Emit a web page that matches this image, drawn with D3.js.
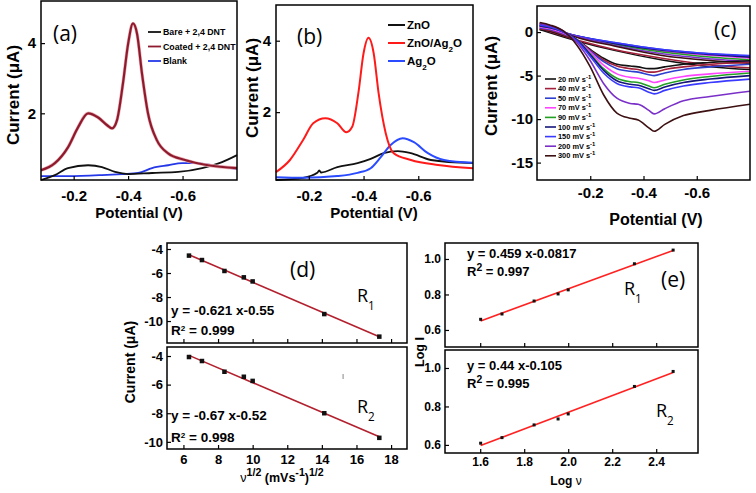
<!DOCTYPE html>
<html>
<head>
<meta charset="utf-8">
<script src="https://cdn.jsdelivr.net/npm/d3@7"></script>
<style>
body { margin: 0; background: #fff; }
svg { display: block; }
text { font-family: "Liberation Sans", Arial, sans-serif; }
</style>
</head>
<body>
<script>
// ---- panel (a): potential (V) vs current (uA)
var aBare = [[-0.08,0.10],[-0.131,0.24],[-0.179,0.44],[-0.253,0.52],[-0.304,0.47],[-0.352,0.33],[-0.40,0.27],[-0.488,0.30],[-0.584,0.33],[-0.672,0.44],[-0.745,0.61],[-0.80,0.81]];
var aCoated = [[-0.08,0.38],[-0.131,0.58],[-0.179,1.03],[-0.216,1.6],[-0.253,2.0],[-0.29,1.88],[-0.323,1.66],[-0.341,1.57],[-0.359,1.8],[-0.381,2.85],[-0.40,3.98],[-0.418,4.56],[-0.433,4.26],[-0.451,3.13],[-0.473,2.0],[-0.506,1.23],[-0.547,0.86],[-0.609,0.67],[-0.694,0.52],[-0.80,0.44]];
var aBlank = [[-0.08,0.21],[-0.179,0.21],[-0.304,0.24],[-0.378,0.27],[-0.437,0.30],[-0.488,0.44],[-0.547,0.52],[-0.598,0.58],[-0.646,0.58],[-0.709,0.52],[-0.80,0.41]];
var aNames = ["Bare + 2,4 DNT", "Coated + 2,4 DNT", "Blank"];

// ---- panel (b)
var bZnO = [[-0.08,0.10],[-0.179,0.16],[-0.231,0.30],[-0.238,0.37],[-0.245,0.31],[-0.304,0.46],[-0.378,0.57],[-0.426,0.69],[-0.473,0.85],[-0.525,0.91],[-0.573,0.85],[-0.646,0.66],[-0.80,0.57]];
var bZnOAg = [[-0.08,0.32],[-0.131,0.66],[-0.179,1.22],[-0.216,1.69],[-0.26,1.83],[-0.304,1.69],[-0.337,1.44],[-0.359,1.6],[-0.381,2.53],[-0.40,3.65],[-0.418,4.08],[-0.437,3.65],[-0.455,2.53],[-0.481,1.41],[-0.51,0.85],[-0.573,0.66],[-0.672,0.52],[-0.80,0.43]];
var bAg = [[-0.08,0.18],[-0.179,0.16],[-0.304,0.21],[-0.378,0.30],[-0.426,0.43],[-0.463,0.74],[-0.499,1.08],[-0.543,1.27],[-0.584,1.16],[-0.635,0.85],[-0.694,0.66],[-0.80,0.58]];

// ---- panel (c): scan rates
var cRates = ["20", "40", "50", "70", "90", "100", "150", "200", "300"];
var cColors = ["#111111", "#a3203a", "#2f3fd0", "#ff44ff", "#22a022", "#16167a", "#3a3aff", "#7a30c8", "#3d1012"];
var cFwdV = [-0.01,-0.05,-0.1,-0.15,-0.2,-0.25,-0.3,-0.35,-0.38,-0.42,-0.44,-0.48,-0.55,-0.65,-0.8];
var cFwd = [
  [0.3,0.1,-0.4,-0.9,-2.0,-3.0,-3.7,-3.9,-4.0,-4.2,-4.2,-4.0,-3.7,-3.5,-3.3],
  [0.4,0.2,-0.3,-0.9,-2.1,-3.2,-3.9,-4.2,-4.3,-4.6,-4.6,-4.3,-4.0,-3.7,-3.5],
  [0.5,0.3,-0.2,-0.9,-2.2,-3.4,-4.2,-4.5,-4.6,-4.9,-5.0,-4.7,-4.3,-4.0,-3.7],
  [0.6,0.4,-0.1,-0.9,-2.3,-3.8,-4.8,-5.2,-5.3,-5.6,-5.8,-5.5,-5.1,-4.8,-4.5],
  [0.7,0.5,0.0,-0.9,-2.5,-4.2,-5.3,-5.7,-5.8,-6.2,-6.4,-6.0,-5.5,-5.1,-4.7],
  [0.7,0.5,0.0,-0.9,-2.6,-4.4,-5.6,-6.0,-6.1,-6.5,-6.7,-6.3,-5.8,-5.4,-5.0],
  [0.8,0.6,0.0,-1.0,-2.8,-4.7,-5.9,-6.3,-6.4,-6.9,-7.1,-6.7,-6.2,-5.8,-5.4],
  [1.0,0.7,0.1,-1.2,-3.3,-5.9,-7.6,-8.2,-8.3,-9.0,-9.4,-8.8,-7.9,-7.4,-6.8],
  [1.1,0.8,0.1,-1.5,-4.0,-7.2,-9.3,-9.9,-10.1,-11.0,-11.4,-10.6,-9.6,-9.0,-8.3]
];
var cRevV = [-0.01,-0.16,-0.29,-0.47,-0.66,-0.8];
var cRev = [
  [0.3,-1.1,-2.1,-3.2,-4.0,-4.3],
  [0.4,-1.0,-2.0,-3.0,-3.8,-4.1],
  [0.6,-0.5,-1.2,-2.0,-2.5,-2.8],
  [0.7,-0.6,-1.3,-2.2,-2.7,-3.0],
  [0.7,-0.6,-1.4,-2.3,-2.9,-3.2],
  [0.8,-0.5,-1.3,-2.1,-2.6,-2.9],
  [0.8,-0.5,-1.2,-2.0,-2.5,-2.7],
  [0.9,-0.6,-1.5,-2.5,-3.1,-3.4],
  [1.0,-0.7,-1.6,-2.7,-3.3,-3.6]
];

// ---- panel (d): current vs sqrt(scan rate)
var dX = [6.32, 7.07, 8.37, 9.49, 10, 14.14, 17.32];
var dR1 = [-4.55, -4.92, -5.83, -6.36, -6.7, -9.42, -11.3];
var dR2 = [-4.07, -4.35, -5.1, -5.45, -5.74, -8.0, -9.72];

// ---- panel (e): log I vs log v
var eX = [1.602, 1.699, 1.845, 1.954, 2.0, 2.301, 2.477];
var eR1 = [0.66, 0.69, 0.763, 0.803, 0.826, 0.973, 1.05];
var eR2 = [0.609, 0.638, 0.704, 0.735, 0.761, 0.904, 0.982];

var fmt1 = function(d) { return d.toFixed(1); };
var fmt0 = function(d) { return String(d); };

var svg = d3.select("body").append("svg").attr("width", 756).attr("height", 493);
svg.append("rect").attr("width", 756).attr("height", 493).attr("fill", "#fff");

function frame(xs, ys) {
  var r = xs.range(), t = ys.range();
  svg.append("rect")
    .attr("x", Math.min(r[0], r[1])).attr("y", Math.min(t[0], t[1]))
    .attr("width", Math.abs(r[1] - r[0])).attr("height", Math.abs(t[1] - t[0]))
    .attr("fill", "none").attr("stroke", "#000").attr("stroke-width", 1.5);
}

function axis(gen, pos, vals, fmt, size, pad) {
  var g = svg.append("g").attr("transform", pos)
    .call(gen.tickValues(vals).tickFormat(fmt).tickSizeInner(-4).tickSizeOuter(0).tickPadding(pad));
  g.select(".domain").remove();
  g.selectAll("line").attr("stroke", "#000").attr("stroke-width", 1.2);
  g.selectAll("text").style("font-family", '"Liberation Sans", Arial, sans-serif')
    .style("font-size", size + "px").style("font-weight", "bold").attr("fill", "#000");
  return g;
}

function label(x, y, parts, size, opts) {
  opts = opts || {};
  var t = svg.append("text").attr("x", x).attr("y", y)
    .attr("text-anchor", opts.anchor || "start")
    .attr("fill", "#000")
    .style("font-size", size + "px")
    .style("font-weight", opts.weight || "bold")
    .style("font-family", opts.family || '"Liberation Sans", Arial, sans-serif');
  if (opts.rotate) t.attr("transform", "rotate(-90," + x + "," + y + ")");
  parts.forEach(function(p) {
    if (typeof p === "string") { t.append("tspan").text(p); return; }
    var s = t.append("tspan").text(p.t);
    if (p.sup) s.attr("baseline-shift", "super").style("font-size", (p.fs || 0.7) * size + "px");
    if (p.sub) s.attr("baseline-shift", "sub").style("font-size", (p.fs || 0.7) * size + "px");
    if (p.w) s.style("font-weight", p.w);
  });
  return t;
}

function curve(xs, ys, pts, color, w) {
  var line = d3.line().x(function(d) { return xs(d[0]); }).y(function(d) { return ys(d[1]); })
    .curve(d3.curveMonotoneX);
  svg.append("path").datum(pts).attr("d", line).attr("fill", "none")
    .attr("stroke", color).attr("stroke-width", w).attr("stroke-linejoin", "round");
}

var calibri = '"Open Sans", "Noto Sans", sans-serif';

// ================= (a)
var xa = d3.scaleLinear().domain([-0.08, -0.8]).range([41, 237]);
var ya = d3.scaleLinear().domain([0.1, 5.2]).range([180, 1]);
curve(xa, ya, aBlank, "#2438e8", 1.8);
curve(xa, ya, aBare, "#111", 1.8);
curve(xa, ya, aCoated, "#ecb0b8", 3.4);
curve(xa, ya, aCoated, "#8e1b2d", 2.2);
frame(xa, ya);
axis(d3.axisBottom(xa), "translate(0,180)", [-0.2, -0.4, -0.6], fmt1, 15, 10);
axis(d3.axisLeft(ya), "translate(41,0)", [2, 4], fmt0, 15, 5);
label(139, 218, ["Potential (V)"], 15, {anchor: "middle"});
label(19, 95, ["Current (", "μ", "A)"], 17, {anchor: "middle", rotate: true});
label(53, 41, ["(a)"], 21, {weight: "normal", family: calibri});
var aCols = ["#111", "#8e1b2d", "#2438e8"];
aNames.forEach(function(n, i) {
  var y = 32 + i * 14.5;
  svg.append("line").attr("x1", 148).attr("x2", 161).attr("y1", y).attr("y2", y)
    .attr("stroke", aCols[i]).attr("stroke-width", 1.8);
  label(163, y + 3.2, [n], 8.8);
});

// ================= (b)
var xb = d3.scaleLinear().domain([-0.08, -0.8]).range([276, 473]);
var yb = d3.scaleLinear().domain([0.1, 5.0]).range([180, 5]);
curve(xb, yb, bZnO, "#111", 1.8);
curve(xb, yb, bAg, "#2a4bff", 2);
curve(xb, yb, bZnOAg, "#ff1a1a", 2);
frame(xb, yb);
axis(d3.axisBottom(xb), "translate(0,180)", [-0.2, -0.4, -0.6], fmt1, 15, 10);
axis(d3.axisLeft(yb), "translate(276,0)", [2, 4], fmt0, 15, 5);
label(374, 218, ["Potential (V)"], 15, {anchor: "middle"});
label(258, 88, ["Current (", "μ", "A)"], 17, {anchor: "middle", rotate: true});
label(297, 44, ["(b)"], 21, {weight: "normal", family: calibri});
var bLeg = [["#111", ["ZnO"]], ["#ff1a1a", ["ZnO/Ag", {t: "2", sub: true}, "O"]], ["#2a4bff", ["Ag", {t: "2", sub: true}, "O"]]];
bLeg.forEach(function(l, i) {
  var y = 25 + i * 18;
  svg.append("line").attr("x1", 388).attr("x2", 405).attr("y1", y).attr("y2", y)
    .attr("stroke", l[0]).attr("stroke-width", 2);
  label(407, y + 4, l[1], 11.5);
});

// ================= (c)
var xc = d3.scaleLinear().domain([0, -0.8]).range([537, 750]);
var yc = d3.scaleLinear().domain([-17, 3]).range([180, 6]);
cRates.forEach(function(r, i) {
  curve(xc, yc, cRevV.map(function(v, j) { return [v, cRev[i][j]]; }), cColors[i], 1.5);
});
cRates.forEach(function(r, i) {
  curve(xc, yc, cFwdV.map(function(v, j) { return [v, cFwd[i][j]]; }), cColors[i], 1.6);
});
frame(xc, yc);
axis(d3.axisBottom(xc), "translate(0,180)", [-0.2, -0.4, -0.6], fmt1, 15, 7);
axis(d3.axisLeft(yc), "translate(537,0)", [0, -5, -10, -15], fmt0, 15, 4);
label(656, 225, ["Potential (V)"], 16, {anchor: "middle"});
label(497, 86, ["Current (", "μ", "A)"], 17, {anchor: "middle", rotate: true});
label(714, 37, ["(c)"], 21, {weight: "normal", family: calibri});
cRates.forEach(function(r, i) {
  var y = 79 + i * 9.6;
  svg.append("line").attr("x1", 545).attr("x2", 556).attr("y1", y).attr("y2", y)
    .attr("stroke", cColors[i]).attr("stroke-width", 1.6);
  label(558, y + 2.6, [r + " mV s", {t: "-1", sup: true, fs: 0.8}], 7.4);
});

// ================= (d)
function fit(xsArr, ysArr) {
  var n = xsArr.length, mx = d3.mean(xsArr), my = d3.mean(ysArr);
  var sxy = d3.sum(xsArr, function(x, i) { return (x - mx) * (ysArr[i] - my); });
  var sxx = d3.sum(xsArr, function(x) { return (x - mx) * (x - mx); });
  var k = sxy / sxx, b = my - k * mx;
  var x0 = xsArr[0], x1 = xsArr[n - 1];
  return [[x0, k * x0 + b], [x1, k * x1 + b]];
}
function scatterPanel(xs, ys, X, Y, lineCol, sq) {
  var l = fit(X, Y);
  svg.append("line").attr("x1", xs(l[0][0])).attr("y1", ys(l[0][1]))
    .attr("x2", xs(l[1][0])).attr("y2", ys(l[1][1]))
    .attr("stroke", lineCol).attr("stroke-width", 1.6);
  svg.append("g").selectAll("rect").data(X).join("rect")
    .attr("x", function(d) { return xs(d) - sq / 2; })
    .attr("y", function(d, i) { return ys(Y[i]) - sq / 2; })
    .attr("width", sq).attr("height", sq).attr("fill", "#111");
}
var xd = d3.scaleLinear().domain([5.05, 18.92]).range([167, 407]);
var yd1 = d3.scaleLinear().domain([-11.83, -3.5]).range([343, 243]);
var yd2 = d3.scaleLinear().domain([-10.5, -3.37]).range([449, 347]);
scatterPanel(xd, yd1, dX, dR1, "#b3202e", 4.5);
scatterPanel(xd, yd2, dX, dR2, "#b3202e", 4.5);
frame(xd, yd1);
frame(xd, yd2);
var dTicks = [6, 8, 10, 12, 14, 16, 18];
axis(d3.axisBottom(xd), "translate(0,343)", dTicks, function() { return ""; }, 12, 4);
axis(d3.axisBottom(xd), "translate(0,449)", dTicks, fmt0, 13, 6);
axis(d3.axisLeft(yd1), "translate(167,0)", [-4, -6, -8, -10], fmt0, 13, 4);
axis(d3.axisLeft(yd2), "translate(167,0)", [-4, -6, -8, -10], fmt0, 13, 4);
label(282, 482, [{t: "ν", w: "normal"}, {t: "1/2", sup: true, fs: 0.85}, " (mVs", {t: "-1", sup: true, fs: 0.85}, ")", {t: "1/2", sup: true, fs: 0.85}], 12.5, {anchor: "middle"});
label(135, 362, ["Current (", "μ", "A)"], 14, {anchor: "middle", rotate: true});
label(290, 277, ["(d)"], 21, {weight: "normal", family: calibri});
label(357, 302, ["R", {t: "1", sub: true, fs: 0.65}], 18, {weight: "normal", family: calibri});
label(357, 413, ["R", {t: "2", sub: true, fs: 0.65}], 18, {weight: "normal", family: calibri});
label(171, 315, ["y = -0.621 x-0.55"], 13.5);
label(171, 335, ["R", {t: "2", sup: true, fs: 0.6}, " = 0.999"], 13.5);
label(171, 420, ["y = -0.67 x-0.52"], 13.5);
label(171, 442, ["R", {t: "2", sup: true, fs: 0.6}, " = 0.998"], 13.5);
label(343, 378, ["|"], 6, {weight: "normal", anchor: "middle"});

// ================= (e)
var xe = d3.scaleLinear().domain([1.44, 2.59]).range([445, 698]);
var ye1 = d3.scaleLinear().domain([0.504, 1.09]).range([347, 243]);
var ye2 = d3.scaleLinear().domain([0.558, 1.0935]).range([453, 350]);
scatterPanel(xe, ye1, eX, eR1, "#ff2222", 3);
scatterPanel(xe, ye2, eX, eR2, "#ff2222", 3);
frame(xe, ye1);
frame(xe, ye2);
var eTicks = [1.6, 1.8, 2.0, 2.2, 2.4];
axis(d3.axisBottom(xe), "translate(0,347)", eTicks, function() { return ""; }, 11, 4);
axis(d3.axisBottom(xe), "translate(0,453)", eTicks, fmt1, 12, 4);
axis(d3.axisLeft(ye1), "translate(445,0)", [0.6, 0.8, 1.0], fmt1, 12, 4);
axis(d3.axisLeft(ye2), "translate(445,0)", [0.6, 0.8, 1.0], fmt1, 12, 4);
label(566, 485, ["Log ", {t: "ν", w: "normal"}], 12, {anchor: "middle"});
label(424, 352, ["Log I"], 12.5, {anchor: "middle", rotate: true});
label(661, 287, ["(e)"], 21, {weight: "normal", family: calibri});
label(624, 295, ["R", {t: "1", sub: true, fs: 0.65}], 18, {weight: "normal", family: calibri});
label(656, 417, ["R", {t: "2", sub: true, fs: 0.65}], 18, {weight: "normal", family: calibri});
label(467, 258, ["y = 0.459 x-0.0817"], 13);
label(467, 276, ["R", {t: "2", sup: true, fs: 0.8}, " = 0.997"], 13);
label(467, 370, ["y = 0.44 x-0.105"], 13);
label(467, 388, ["R", {t: "2", sup: true, fs: 0.8}, " = 0.995"], 13);
</script>
</body>
</html>
